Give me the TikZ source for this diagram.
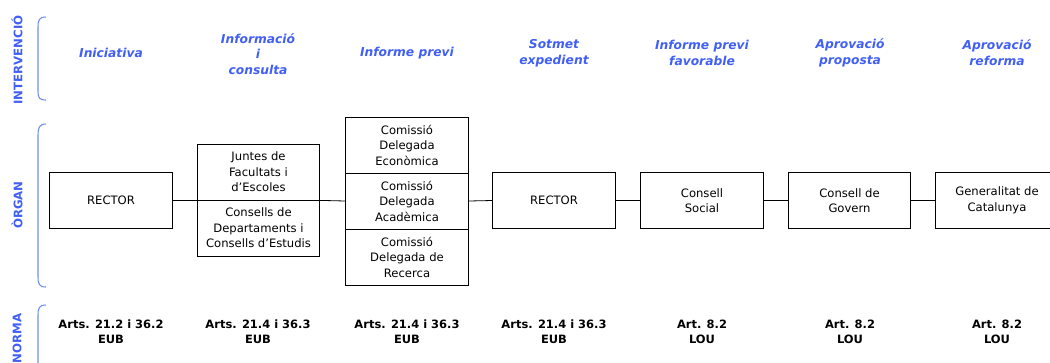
\documentclass[tikz,border=0pt]{standalone}
\usepackage{fontspec}
\setmainfont{DejaVu Sans}
\usepackage{tikz}
\definecolor{labelblue}{RGB}{65,95,245}
\definecolor{bracketblue}{RGB}{110,140,240}

\begin{document}
\begin{tikzpicture}[x=0.75pt,y=-0.75pt,
    organ/.style={draw, line width=0.6pt, minimum width=92pt, minimum height=42.5pt,
        inner sep=1pt, align=center, font=\fontsize{8.7}{11.6}\selectfont},
    cell/.style={organ, minimum height=42pt},
    enllac/.style={line width=0.6pt},
    pas/.style={text=labelblue, align=center, font=\fontsize{9.2}{11.8}\selectfont\bfseries\itshape},
    norma/.style={align=center, font=\fontsize{8.6}{11.2}\selectfont\bfseries},
    fila/.style={text=labelblue, rotate=90, font=\fontsize{8.8}{10}\selectfont\bfseries},
    claudator/.style={bracketblue, line width=0.8pt}]
    \useasboundingbox (0,0) rectangle (1050,362);
    \clip (0,0) rectangle (1050,362);
    % rows
    \node[fila] (fInterv) at (17,60) {INTERVENCIÓ};
    \node[fila] (fOrgan) at (17,205) {ÒRGAN};
    \node[fila, anchor=east] (fNorma) at (17,309) {NORMA};
    \draw[claudator] (46,17) .. controls (39,17) and (38,20) .. (38,28) -- (38,90) .. controls (38,98) and (39,100) .. (46,100);
    \draw[claudator] (46,124) .. controls (39,124) and (38,128) .. (38,136) -- (38,276) .. controls (38,284) and (39,287) .. (46,287);
    \draw[claudator] (46,305) .. controls (39,305) and (38,308) .. (38,316) -- (38,370);
    % intervencio
    \node[pas] (p1) at (111,53) {Iniciativa};
    \node[pas] (p2) at (258,54) {Informació\\i\\consulta};
    \node[pas] (p3) at (407,53) {Informe previ};
    \node[pas] (p4) at (554,53) {Sotmet\\expedient};
    \node[pas] (p5) at (702,53) {Informe previ\\favorable};
    \node[pas] (p6) at (850,53) {Aprovació\\proposta};
    \node[pas] (p7) at (997,53) {Aprovació\\reforma};
    % organs
    \node[organ] (rector) at (111,200.5) {RECTOR};
    \node[cell] (juntes) at (258.5,172) {Juntes de\\Facultats i\\d'Escoles};
    \node[cell] (consells) at (258.5,228) {Consells de\\Departaments i\\Consells d'Estudis};
    \node[cell] (economica) at (407,145) {Comissió\\Delegada\\Econòmica};
    \node[cell] (academica) at (407,201) {Comissió\\Delegada\\Acadèmica};
    \node[cell] (recerca) at (407,257) {Comissió\\Delegada de\\Recerca};
    \node[organ] (rectorb) at (554,200.5) {RECTOR};
    \node[organ] (social) at (702,200.5) {Consell\\Social};
    \node[organ] (govern) at (849.5,200.5) {Consell de\\Govern};
    \node[organ] (generalitat) at (997,200.5) {Generalitat de\\Catalunya};
    \draw[enllac] (rector.east) -- (juntes.south west);
    \draw[enllac] (juntes.south east) -- (academica.west);
    \draw[enllac] (academica.east) -- (rectorb.west);
    \draw[enllac] (rectorb.east) -- (social.west);
    \draw[enllac] (social.east) -- (govern.west);
    \draw[enllac] (govern.east) -- (generalitat.west);
    % normes
    \node[norma] (n1) at (111,332) {Arts. 21.2 i 36.2\\EUB};
    \node[norma] (n2) at (258,332) {Arts. 21.4 i 36.3\\EUB};
    \node[norma] (n3) at (407,332) {Arts. 21.4 i 36.3\\EUB};
    \node[norma] (n4) at (554,332) {Arts. 21.4 i 36.3\\EUB};
    \node[norma] (n5) at (702,332) {Art. 8.2\\LOU};
    \node[norma] (n6) at (850,332) {Art. 8.2\\LOU};
    \node[norma] (n7) at (997,332) {Art. 8.2\\LOU};
\end{tikzpicture}
\end{document}
